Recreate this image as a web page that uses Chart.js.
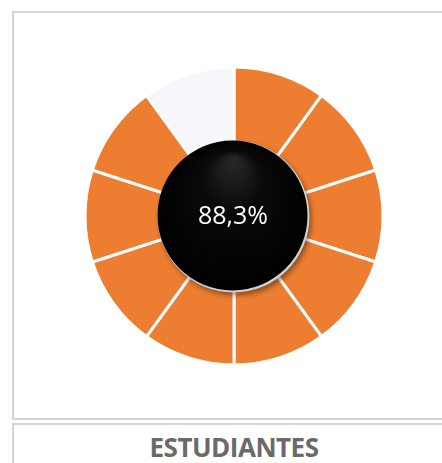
<!DOCTYPE html>
<html>
<head>
<meta charset="utf-8">
<script src="https://cdn.jsdelivr.net/npm/chart.js@4/dist/chart.umd.min.js"></script>
<style>
    html, body { margin: 0; padding: 0; background: #fff; }
    body { width: 442px; height: 463px; position: relative; overflow: hidden; }
    .frame {
        position: absolute;
        border: 2px solid #d4d4d4;
        box-sizing: border-box;
    }
    #top-frame { left: 12px; top: 11px; width: 460px; height: 409px; }
    #bottom-frame { left: 12px; top: 423px; width: 460px; height: 80px; }
    #title {
        position: absolute;
        left: 0; width: 468px; top: 429px;
        text-align: center;
        font-family: "Open Sans", sans-serif;
        font-weight: 700;
        font-size: 26px;
        letter-spacing: -0.5px;
        color: #6b6969;
    }
    #chart { position: absolute; left: 0; top: 0; }
</style>
</head>
<body>
<div class="frame" id="top-frame"></div>
<div class="frame" id="bottom-frame"></div>
<div id="title"></div>
<canvas id="chart" width="442" height="463"></canvas>
<script>
// Ten equal slices, nine filled
const segmentLabels = ['1', '2', '3', '4', '5', '6', '7', '8', '9', '10'];
const segmentValues = [1, 1, 1, 1, 1, 1, 1, 1, 1, 1];
const segmentFilled = [true, true, true, true, true, true, true, true, true, false];
const centerLabel = '88,3%';
const titleText = 'ESTUDIANTES';

const filledColor = '#ED7D31';
const emptyColor = '#F5F7FA';

document.getElementById('title').textContent = titleText;

// Black knob in the middle with the percentage on it
const centerKnob = {
    id: 'centerKnob',
    afterDatasetsDraw(chart) {
        const arc = chart.getDatasetMeta(0).data[0];
        if (!arc) return;
        const ctx = chart.ctx;
        const cx = arc.x - 1;
        const cy = arc.y;
        const r = 76;

        // soft shadow + light rim, mostly lower right
        ctx.save();
        ctx.shadowColor = 'rgba(0, 0, 0, 0.4)';
        ctx.shadowBlur = 5;
        ctx.shadowOffsetX = 2;
        ctx.shadowOffsetY = 3;
        ctx.beginPath();
        ctx.arc(cx + 0.5, cy + 0.5, r, 0, Math.PI * 2);
        ctx.fillStyle = '#d0d0d0';
        ctx.fill();
        ctx.restore();

        ctx.save();
        const grad = ctx.createRadialGradient(cx, cy - 55, 4, cx, cy, r);
        grad.addColorStop(0, '#262626');
        grad.addColorStop(0.35, '#0a0a0a');
        grad.addColorStop(1, '#000000');
        ctx.beginPath();
        ctx.arc(cx - 0.5, cy - 0.5, r - 1, 0, Math.PI * 2);
        ctx.fillStyle = grad;
        ctx.fill();

        ctx.fillStyle = '#ffffff';
        ctx.font = '25px "Open Sans", sans-serif';
        ctx.textAlign = 'center';
        ctx.textBaseline = 'middle';
        ctx.fillText(centerLabel, cx, cy + 1);
        ctx.restore();
    }
};

const ctx = document.getElementById('chart').getContext('2d');
new Chart(ctx, {
    type: 'doughnut',
    data: {
        labels: segmentLabels,
        datasets: [{
            data: segmentValues,
            backgroundColor: segmentFilled.map(f => f ? filledColor : emptyColor),
            borderColor: '#ffffff',
            borderWidth: 3,
            hoverOffset: 0
        }]
    },
    options: {
        responsive: false,
        animation: false,
        radius: 149,
        cutout: 60,
        layout: {
            padding: { left: 26, right: 0, top: 0, bottom: 31 }
        },
        plugins: {
            legend: { display: false },
            tooltip: { enabled: false }
        }
    },
    plugins: [centerKnob]
});
</script>
</body>
</html>
